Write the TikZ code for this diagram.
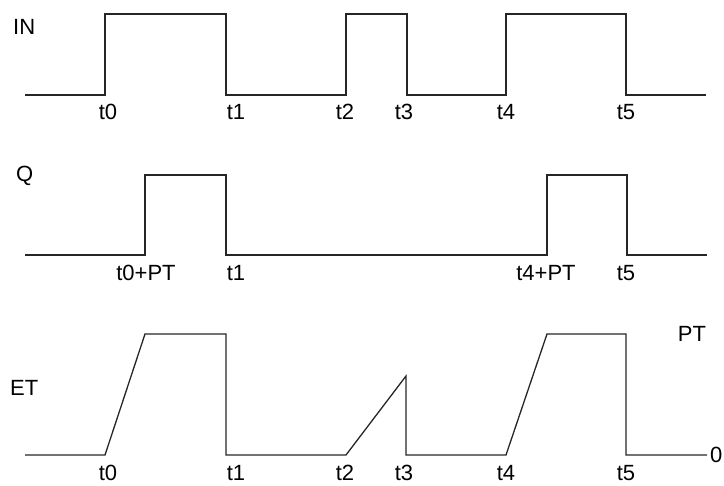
\documentclass[tikz,border=0pt]{standalone}
\usepackage{fontspec}
\setmainfont{Liberation Sans}
\begin{document}
\begin{tikzpicture}[x=1pt,y=-1pt,
      wave/.style={line width=1.3pt,draw=black!85,line join=miter},
      sig/.style={font=\fontsize{22}{26}\selectfont,anchor=west,inner sep=0pt},
      tlbl/.style={font=\fontsize{22}{26}\selectfont,inner sep=0pt}]
    \useasboundingbox (0,0) rectangle (724,486);
    % signal names
    \node[sig] (in) at (13,27) {IN};
    \node[sig] (q) at (16,176) {Q};
    \node[sig] (et) at (10,388) {ET};
    \node[tlbl] (pt) at (692,334) {PT};
    \node[tlbl,anchor=west] (zero) at (710,455) {0};
    % IN
    \draw[wave] (25,95) -- (105,95) -- (105,14) -- (226,14) -- (226,95)
      -- (346,95) -- (346,14) -- (407,14) -- (407,95)
      -- (506,95) -- (506,14) -- (626,14) -- (626,95) -- (706,95);
    % Q
    \draw[wave] (25,255) -- (145,255) -- (145,175) -- (226,175) -- (226,255)
      -- (547,255) -- (547,175) -- (627,175) -- (627,255) -- (707,255);
    % ET
    \draw[wave] (25,455) -- (105,455) -- (145,334) -- (226,334) -- (226,455)
      -- (346,455) -- (406,376) -- (406,455)
      -- (506,455) -- (547,334) -- (626,334) -- (626,455) -- (707,455);
    % time labels
    \foreach \x/\t [count=\i] in {108/t0,236/t1,345/t2,404/t3,506/t4,626/t5} {
      \node[tlbl] (a\i) at (\x,112) {\t};
      \node[tlbl] (c\i) at (\x,473) {\t};
    }
    \foreach \x/\t [count=\i] in {146/t0+PT,236/t1,546/t4+PT,626/t5}
      \node[tlbl] (b\i) at (\x,273) {\t};
  \end{tikzpicture}
\end{document}
